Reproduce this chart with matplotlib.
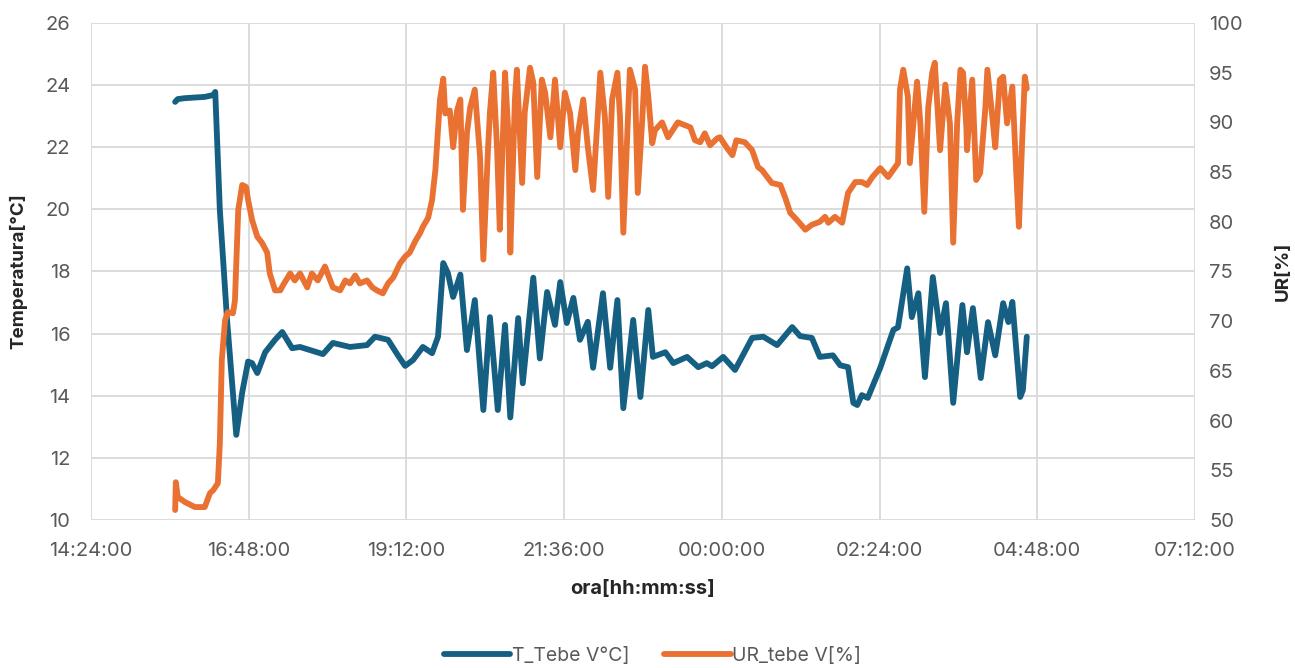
import matplotlib
matplotlib.use('Agg')
import matplotlib.pyplot as plt
from matplotlib.ticker import FuncFormatter, MultipleLocator

# time in hours since midnight of the first day (values > 24 are after midnight)
t_time = [15.68, 15.72, 15.83, 15.98, 16.13, 16.26, 16.29, 16.36, 16.47, 16.61, 16.70, 16.79, 16.85,
          16.93, 17.05, 17.20, 17.31, 17.46, 17.58, 17.93, 18.08, 18.34, 18.60, 18.72, 18.92, 19.07,
          19.18, 19.30, 19.45, 19.59, 19.68, 19.76, 19.83, 19.91, 20.02, 20.12, 20.24, 20.37, 20.47,
          20.59, 20.70, 20.78, 20.90, 20.97, 21.13, 21.23, 21.34, 21.46, 21.54, 21.64, 21.74, 21.84,
          21.96, 22.04, 22.19, 22.30, 22.41, 22.50, 22.65, 22.76, 22.88, 22.95, 23.14, 23.26, 23.47,
          23.64, 23.77, 23.85, 24.02, 24.20, 24.46, 24.63, 24.84, 25.07, 25.19, 25.37, 25.49, 25.69,
          25.80, 25.92, 26.00, 26.06, 26.13, 26.22, 26.41, 26.61, 26.68, 26.82, 26.89, 26.99, 27.09,
          27.21, 27.32, 27.41, 27.52, 27.66, 27.73, 27.82, 27.94, 28.05, 28.16, 28.28, 28.36, 28.42,
          28.54, 28.58, 28.64]
t_tebe = [23.46, 23.55, 23.58, 23.60, 23.62, 23.68, 23.78, 19.98, 16.44, 12.74, 14.10, 15.10, 15.05,
          14.73, 15.40, 15.80, 16.05, 15.53, 15.57, 15.34, 15.70, 15.57, 15.63, 15.90, 15.80, 15.30,
          14.96, 15.15, 15.57, 15.37, 15.90, 18.27, 17.95, 17.18, 17.90, 15.47, 17.08, 13.54, 16.53,
          13.54, 16.28, 13.30, 16.50, 14.40, 17.80, 15.20, 17.34, 16.28, 17.66, 16.34, 17.15, 15.80,
          16.38, 14.90, 17.30, 14.90, 17.08, 13.60, 16.44, 13.96, 16.76, 15.25, 15.40, 15.05, 15.25,
          14.92, 15.05, 14.95, 15.25, 14.83, 15.86, 15.90, 15.63, 16.21, 15.92, 15.86, 15.25, 15.30,
          14.98, 14.92, 13.77, 13.70, 14.02, 13.93, 14.90, 16.12, 16.20, 18.10, 16.53, 17.30, 14.60,
          17.82, 16.02, 16.98, 13.77, 16.92, 15.40, 16.82, 14.57, 16.37, 15.30, 16.98, 16.37, 17.02,
          13.96, 14.18, 15.90]

ur_time = [15.68, 15.69, 15.72, 15.83, 15.98, 16.13, 16.21, 16.26, 16.33, 16.36, 16.39, 16.44, 16.48,
           16.56, 16.59, 16.64, 16.70, 16.76, 16.79, 16.85, 16.93, 17.00, 17.08, 17.12, 17.20, 17.28,
           17.32, 17.43, 17.50, 17.58, 17.69, 17.76, 17.85, 17.96, 18.08, 18.19, 18.27, 18.34, 18.42,
           18.49, 18.60, 18.68, 18.75, 18.84, 18.92, 19.00, 19.10, 19.18, 19.25, 19.33, 19.41, 19.45,
           19.53, 19.59, 19.64, 19.67, 19.71, 19.76, 19.79, 19.86, 19.91, 19.97, 20.02, 20.06, 20.12,
           20.17, 20.24, 20.32, 20.37, 20.44, 20.47, 20.52, 20.58, 20.62, 20.67, 20.70, 20.75, 20.78,
           20.85, 20.88, 20.96, 21.00, 21.08, 21.13, 21.19, 21.26, 21.31, 21.39, 21.46, 21.54, 21.61,
           21.69, 21.77, 21.81, 21.89, 21.96, 22.04, 22.10, 22.15, 22.22, 22.27, 22.33, 22.41, 22.45,
           22.50, 22.57, 22.60, 22.68, 22.72, 22.79, 22.83, 22.88, 22.94, 22.98, 23.09, 23.18, 23.33,
           23.52, 23.59, 23.67, 23.74, 23.82, 23.93, 23.97, 24.08, 24.16, 24.22, 24.35, 24.46, 24.55,
           24.61, 24.76, 24.89, 24.96, 25.04, 25.14, 25.27, 25.37, 25.49, 25.57, 25.62, 25.72, 25.83,
           25.92, 26.03, 26.13, 26.21, 26.29, 26.41, 26.53, 26.68, 26.71, 26.76, 26.83, 26.86, 26.97,
           27.02, 27.08, 27.14, 27.20, 27.24, 27.32, 27.40, 27.47, 27.52, 27.58, 27.63, 27.67, 27.72,
           27.73, 27.81, 27.87, 27.93, 28.01, 28.04, 28.11, 28.16, 28.23, 28.28, 28.34, 28.42, 28.48,
           28.52, 28.57, 28.61, 28.64]
ur_tebe = [51.0, 53.8, 52.3, 51.8, 51.3, 51.3, 52.7, 53.0, 53.7, 57.7, 66.1, 70.1, 70.9,
           70.8, 72.1, 81.2, 83.7, 83.5, 82.2, 80.2, 78.5, 77.9, 76.9, 74.8, 73.1, 73.1,
           73.6, 74.8, 74.1, 74.8, 73.4, 74.8, 74.1, 75.5, 73.4, 73.1, 74.1, 73.8, 74.6,
           73.8, 74.1, 73.4, 73.1, 72.8, 73.8, 74.4, 75.8, 76.5, 76.9, 78.0, 78.9, 79.5,
           80.4, 82.2, 85.2, 88.2, 92.3, 94.4, 90.9, 91.2, 87.5, 91.2, 92.3, 81.2, 88.9,
           91.5, 93.3, 86.5, 76.2, 87.2, 91.0, 95.0, 87.2, 79.2, 88.9, 95.0, 89.0, 76.9,
           92.3, 95.3, 83.9, 91.0, 95.5, 94.0, 84.5, 94.3, 93.0, 88.5, 94.3, 87.5, 93.0,
           90.9, 85.2, 88.9, 92.3, 87.5, 83.2, 89.5, 95.0, 90.5, 82.5, 92.3, 95.0, 90.5,
           78.9, 90.5, 95.3, 93.3, 82.9, 90.5, 95.6, 92.6, 87.9, 89.2, 90.0, 88.5, 90.0,
           89.5, 88.2, 88.0, 88.9, 87.7, 88.4, 88.5, 87.4, 86.7, 88.2, 88.0, 87.2, 85.5,
           85.2, 83.9, 83.7, 82.5, 80.9, 80.2, 79.2, 79.7, 80.0, 80.5, 79.9, 80.5, 79.9,
           82.9, 84.0, 84.0, 83.7, 84.5, 85.4, 84.5, 85.9, 93.3, 95.3, 92.6, 85.9, 94.1,
           89.9, 81.0, 91.5, 95.0, 96.0, 87.2, 93.8, 89.9, 77.9, 89.9, 95.3, 95.0, 89.5,
           87.2, 94.3, 84.2, 84.9, 91.5, 95.3, 90.9, 87.5, 94.3, 94.6, 89.9, 93.6, 84.9,
           79.5, 88.2, 94.6, 93.4]

BLUE = '#156082'
ORANGE = '#E97132'
GRID = '#d9d9d9'
TICK = '#595959'

plt.rcParams['font.family'] = ['Inter', 'DejaVu Sans']


def hms(x, pos=None):
    total = int(round((x % 24) * 3600))
    return f'{total // 3600:02d}:{(total % 3600) // 60:02d}:{total % 60:02d}'


fig = plt.figure(figsize=(12.95, 6.68), dpi=100)
ax = fig.add_axes([0.0703, 0.2216, 0.8525, 0.744])
ax2 = ax.twinx()

l1, = ax.plot(t_time, t_tebe, color=BLUE, lw=4.2, solid_joinstyle='round', solid_capstyle='round',
              label='T_Tebe V°C]')
l2, = ax2.plot(ur_time, ur_tebe, color=ORANGE, lw=4.2, solid_joinstyle='round', solid_capstyle='round',
               label='UR_tebe V[%]')

ax.set_xlim(14.4, 31.2)
ax.xaxis.set_major_locator(MultipleLocator(2.4))
ax.xaxis.set_major_formatter(FuncFormatter(hms))
ax.set_ylim(10, 26)
ax.yaxis.set_major_locator(MultipleLocator(2))
ax2.set_ylim(50, 100)
ax2.yaxis.set_major_locator(MultipleLocator(5))

ax.grid(True, color=GRID, lw=1.3)
ax.set_axisbelow(True)
for a in (ax, ax2):
    for s in a.spines.values():
        s.set_visible(False)
    a.tick_params(length=0, labelsize=14.5, labelcolor=TICK)
ax.tick_params(axis='x', pad=16)
ax.tick_params(axis='y', pad=15)
ax2.tick_params(axis='y', pad=10)

ax.set_xlabel('ora[hh:mm:ss]', fontsize=14.5, fontweight='bold', color='#262626', labelpad=14)
ax.set_ylabel('Temperatura[°C]', fontsize=13.5, fontweight='bold', color='#262626')
ax.yaxis.set_label_coords(-0.058, 0.5)
ax2.set_ylabel('UR[%]', fontsize=13.5, fontweight='bold', color='#262626')
ax2.yaxis.set_label_coords(1.0725, 0.5)

fig.legend(handles=[l1, l2], loc='center', bbox_to_anchor=(0.504, 0.018), ncol=2, frameon=False,
           fontsize=14, labelcolor=TICK, handlelength=3.4, handletextpad=0.1, columnspacing=1.8)

fig.savefig('out.png', dpi=100)
